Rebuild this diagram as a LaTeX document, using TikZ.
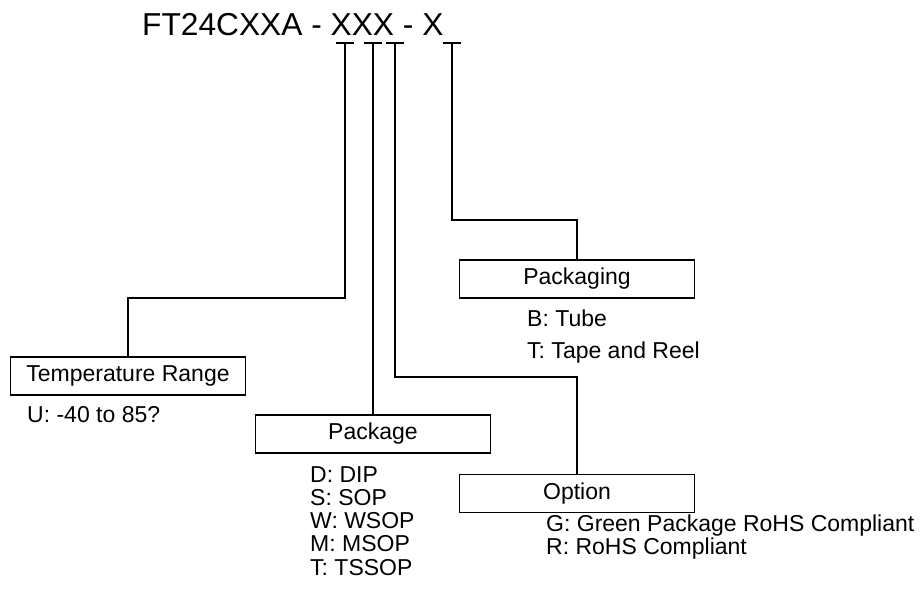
\documentclass[tikz,border=0pt]{standalone}
\usepackage{fontspec}
\setmainfont{Liberation Sans}
\tikzset{
  field-box/.style={draw, line width=1.1pt, minimum width=235pt, minimum height=38pt,
    inner sep=0pt, font=\fontsize{23}{26}\selectfont},
  field-path/.style={line width=1.1pt},
  code-item/.style={anchor=base west, inner sep=0pt, font=\fontsize{23}{26}\selectfont},
}

\begin{document}
\begin{tikzpicture}[x=1pt, y=-1pt]
\useasboundingbox (0,0) rectangle (922,590);
% part number
\node[anchor=base west, inner sep=0pt, font=\fontsize{31.7}{36}\selectfont] (code) at (142,35) {FT24CXXA - XXX - X};
% tick marks under the fields
\coordinate (t-temp) at (345,43);
\coordinate (t-pkg) at (373,43);
\coordinate (t-opt) at (395,43);
\coordinate (t-packing) at (452,43);
\foreach \t in {t-temp, t-pkg, t-opt, t-packing}
  \draw[field-path] (\t) ++(-9,0) -- ++(18,0);
% field boxes
\node[field-box] (temp) at (128,376) {Temperature Range};
\node[field-box] (pkg) at (373,434) {Package};
\node[field-box] (opt) at (577,493.5) {Option};
\node[field-box] (packing) at (577,279) {Packaging};
% connectors
\draw[field-path] (t-temp) -- (t-temp |- 0,298) -| (temp.north);
\draw[field-path] (t-pkg) -- (pkg.north);
\draw[field-path] (t-opt) -- (t-opt |- 0,377) -| (opt.north);
\draw[field-path] (t-packing) -- (t-packing |- 0,220) -| (packing.north);
% codes
\node[code-item] (temp-0) at (27,422) {U: -40 to 85?};
\foreach \entry [count=\i from 0] in {D: DIP, S: SOP, W: WSOP, M: MSOP, T: TSSOP}
  \node[code-item] (pkg-\i) at (310,{482+23.3*\i}) {\entry};
\foreach \entry [count=\i from 0] in {G: Green Package RoHS Compliant, R: RoHS Compliant}
  \node[code-item] (opt-\i) at (546,{531+23*\i}) {\entry};
\foreach \entry [count=\i from 0] in {B: Tube, T: Tape and Reel}
  \node[code-item] (packing-\i) at (527,{326+32*\i}) {\entry};
\end{tikzpicture}
\end{document}
